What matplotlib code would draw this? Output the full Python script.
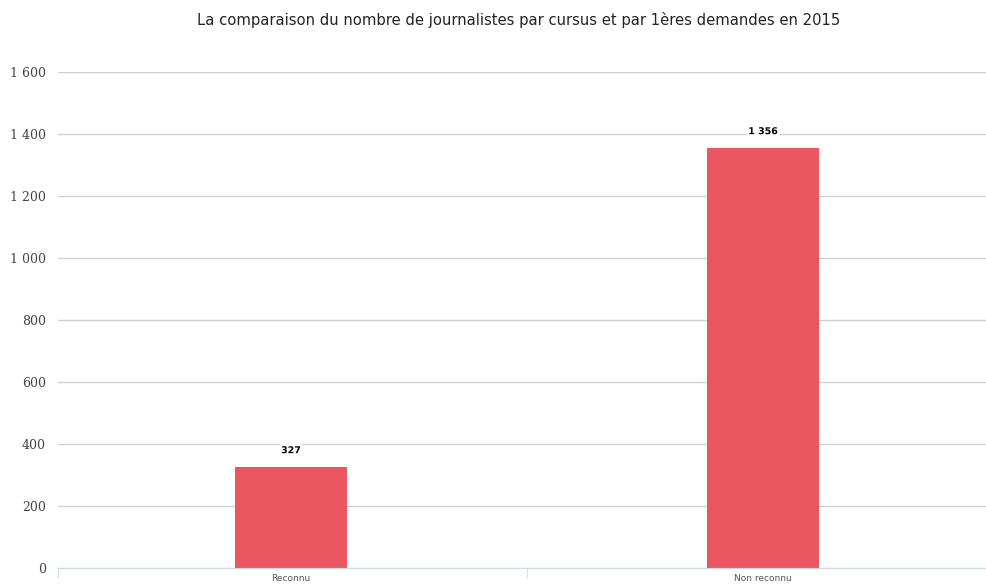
import numpy as np
import matplotlib
matplotlib.use("Agg")
import matplotlib.pyplot as plt
import matplotlib.patheffects as pe
from matplotlib.ticker import FuncFormatter

# donnees du graphique
categories = ["Reconnu", "Non reconnu"]
journalistes = [327, 1356]
y_ticks = [0, 200, 400, 600, 800, 1000, 1200, 1400, 1600]

fig = plt.figure(figsize=(9.86, 5.85), dpi=100)
W, H = 986, 585
# zone de trace en pixels: x 58 -> 986, y 72 -> 568
ax = fig.add_axes([58 / W, (H - 568) / H, (986 - 58) / W, (568 - 72) / H])

x = np.arange(len(categories))
bars = ax.bar(x, journalistes, width=0.237, color="#ea5761", zorder=3)

# etiquettes de valeurs
fmt = lambda v: f"{v:,.0f}".replace(",", " ")
for rect, val in zip(bars, journalistes):
    ax.annotate(fmt(val), (rect.get_x() + rect.get_width() / 2, rect.get_height()),
                xytext=(0, 11.5), textcoords="offset points", ha="center", va="center",
                fontsize=6.8, fontweight="bold", color="#000000", zorder=5,
                path_effects=[pe.withStroke(linewidth=4, foreground="white")])

ax.set_xlim(-0.4936, 1.4725)
ax.set_ylim(0, 1600)
ax.set_yticks(y_ticks)
ax.yaxis.set_major_formatter(FuncFormatter(lambda v, p: fmt(v)))
ax.set_xticks(x)
ax.set_xticklabels(categories)
ax.set_xticks([-0.4936, 0.5], minor=True)

ax.grid(axis="y", color="#d0d0d0", linewidth=1, zorder=0)
for s in ["top", "right", "left"]:
    ax.spines[s].set_visible(False)
ax.spines["bottom"].set_color("#ccd6eb")
ax.spines["bottom"].set_zorder(4)

ax.tick_params(axis="y", length=0, pad=8.6, labelsize=9, labelcolor="#444444")
for lbl in ax.get_yticklabels():
    lbl.set_family("DejaVu Serif")
ax.tick_params(axis="x", which="major", length=0, pad=4, labelsize=6.5, labelcolor="#555555")
ax.tick_params(axis="x", which="minor", length=7, color="#ccd6eb", direction="out")

fig.text(519 / W, 1 - 20 / H, "La comparaison du nombre de journalistes par cursus et par 1ères demandes en 2015",
         ha="center", va="center", fontsize=10.6, color="#222222", family="DejaVu Sans")

fig.savefig("out.png", dpi=100, facecolor="white")
